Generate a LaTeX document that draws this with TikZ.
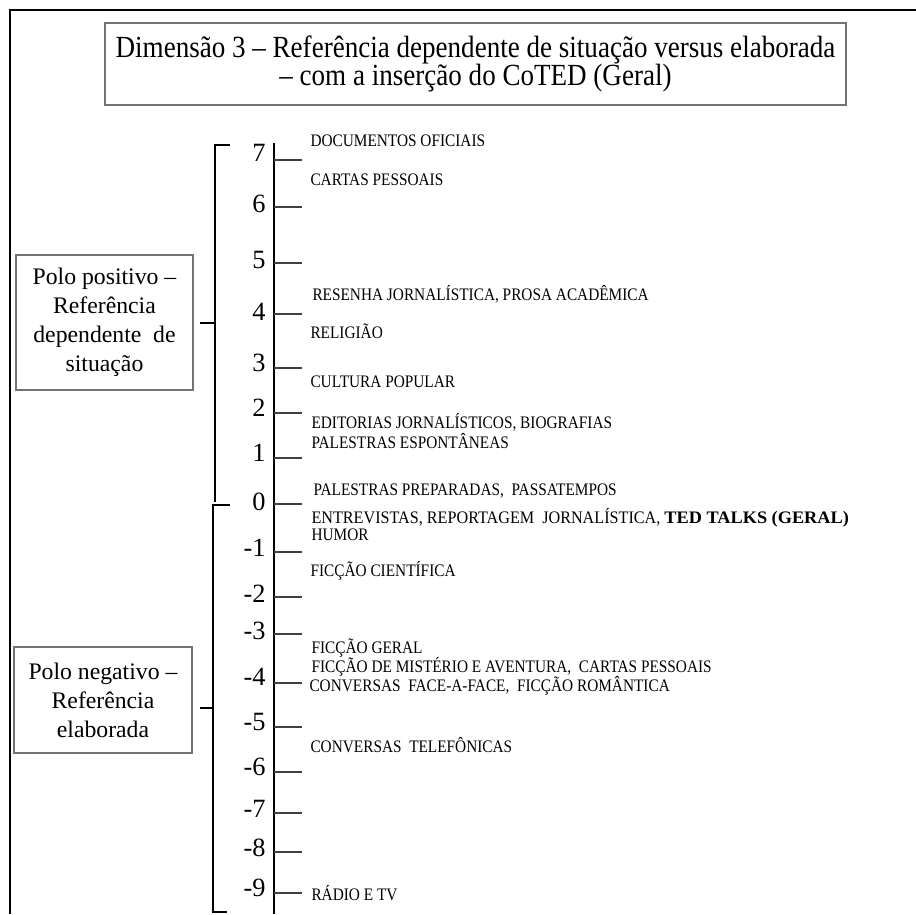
\documentclass[tikz,border=0pt]{standalone}
\usepackage{fontspec}
\usepackage{graphicx}
\setmainfont{Liberation Serif}[FakeStretch=0.8]
\newcommand\squeeze[1]{\scalebox{1.09}[1]{#1}}
\newcommand\squeezetitle[1]{\scalebox{1.1}[1]{#1}}
\newcommand\widen[1]{\scalebox{1.25}[1]{#1}}

\begin{document}
\begin{tikzpicture}
[ x=0.02cm, y=-0.02cm, line width=0.6pt
, frame/.style={line width=1.1pt}
, titlebox/.style={rectangle, draw=black!55, line width=0.8pt, inner sep=0pt, minimum width=14.82cm, minimum height=1.64cm, align=center, font=\fontsize{17.5}{16}\selectfont}
, polebox/.style={rectangle, draw=black!55, line width=0.8pt, inner sep=0pt, align=center, font=\fontsize{13.5}{16.5}\selectfont}
, number/.style={anchor=east, inner sep=0pt, text height=0.68em, text depth=0pt, font=\fontsize{15}{15}\selectfont}
, genre/.style={anchor=base west, inner sep=0pt, font=\fontsize{10}{10}\selectfont}
, tickline/.style={draw=black!75, line width=0.6pt}
, axis/.style={line width=1.1pt}
, bracket/.style={line width=0.9pt}
]
\useasboundingbox (0,0) rectangle (916,914);
% Frame:
\coordinate (f0) at (8,10);
\coordinate (f1) at (916,10);
\coordinate (f2) at (10,914);
\draw [frame] (f1) -- (f0 -| f2) -- (f2);
% Title:
\node (title) [titlebox] at (475.5,64)
  {\squeezetitle{Dimensão 3 – Referência dependente de situação versus elaborada}\\
   \squeezetitle{– com a inserção do CoTED (Geral)}};
% Poles:
\node (pos) [polebox, minimum width=3.54cm, minimum height=2.7cm] at (104.5,322.5)
  {\widen{Polo positivo –}\\ \widen{Referência}\\ \widen{dependente\ \ de}\\ \widen{situação}};
\node (neg) [polebox, minimum width=3.56cm, minimum height=2.12cm] at (103,700)
  {\widen{Polo negativo –}\\ \widen{Referência}\\ \widen{elaborada}};
% Brackets:
\coordinate (b0) at (230,145);
\coordinate (b1) at (215,502);
\coordinate (b2) at (230,505);
\coordinate (b3) at (213,912);
\coordinate (b4) at (227,912);
\coordinate (tp) at (200,323);
\coordinate (tn) at (200,708);
\draw [bracket] (b0) -- (b0 -| b1) -- (b1);
\draw [bracket] (b2) -- (b2 -| b3) -- (b3) -- (b4);
\draw [bracket] (tp) -- (tp -| b1);
\draw [bracket] (tn) -- (tn -| b3);
% Axis:
\coordinate (top) at (274,143);
\coordinate (bot) at (274,914);
\draw [axis] (top) -- (bot);
\foreach \v/\y/\n in {7/160/156, 6/207/207, 5/263/263, 4/314/315, 3/368/366, 2/413/411,
  1/458/456, 0/504/505, -1/552/551, -2/597/597, -3/634/634, -4/683/680,
  -5/727/725, -6/772/770, -7/813/812, -8/852/851, -9/893/891}
{
  \coordinate (a\v) at (274,\y);
  \coordinate (e\v) at (302,\y);
  \draw [tickline] (a\v) -- (e\v);
  \node (n\v) [number] at (266,\n) {\widen{\v}};
}
% Genres:
\node (g1) [genre] at (310,146) {\squeeze{DOCUMENTOS OFICIAIS}};
\node (g2) [genre] at (310,185) {\squeeze{CARTAS PESSOAIS}};
\node (g3) [genre] at (312,300) {\squeeze{RESENHA JORNALÍSTICA, PROSA ACADÊMICA}};
\node (g4) [genre] at (310,338) {\squeeze{RELIGIÃO}};
\node (g5) [genre] at (310,387) {\squeeze{CULTURA POPULAR}};
\node (g6) [genre] at (311,428) {\squeeze{EDITORIAS JORNALÍSTICOS, BIOGRAFIAS}};
\node (g7) [genre] at (311,448) {\squeeze{PALESTRAS ESPONTÂNEAS}};
\node (g8) [genre] at (313,495) {\squeeze{PALESTRAS PREPARADAS,\ \ PASSATEMPOS}};
\node (g9) [genre] at (311,523) {\scalebox{1.15}[1]{ENTREVISTAS, REPORTAGEM\ \ JORNALÍSTICA, \scalebox{1.13}[1]{\textbf{TED TALKS (GERAL)}}}};
\node (g10) [genre] at (311,540) {\squeeze{HUMOR}};
\node (g11) [genre] at (310,576) {\squeeze{FICÇÃO CIENTÍFICA}};
\node (g12) [genre] at (311,653) {\squeeze{FICÇÃO GERAL}};
\node (g13) [genre] at (311,672) {\squeeze{FICÇÃO DE MISTÉRIO E AVENTURA,\ \ CARTAS PESSOAIS}};
\node (g14) [genre] at (309,691) {\squeeze{CONVERSAS\ \ FACE-A-FACE,\ \ FICÇÃO ROMÂNTICA}};
\node (g15) [genre] at (310,752) {\squeeze{CONVERSAS\ \ TELEFÔNICAS}};
\node (g16) [genre] at (311,900) {\squeeze{RÁDIO E TV}};
\end{tikzpicture}
\end{document}
